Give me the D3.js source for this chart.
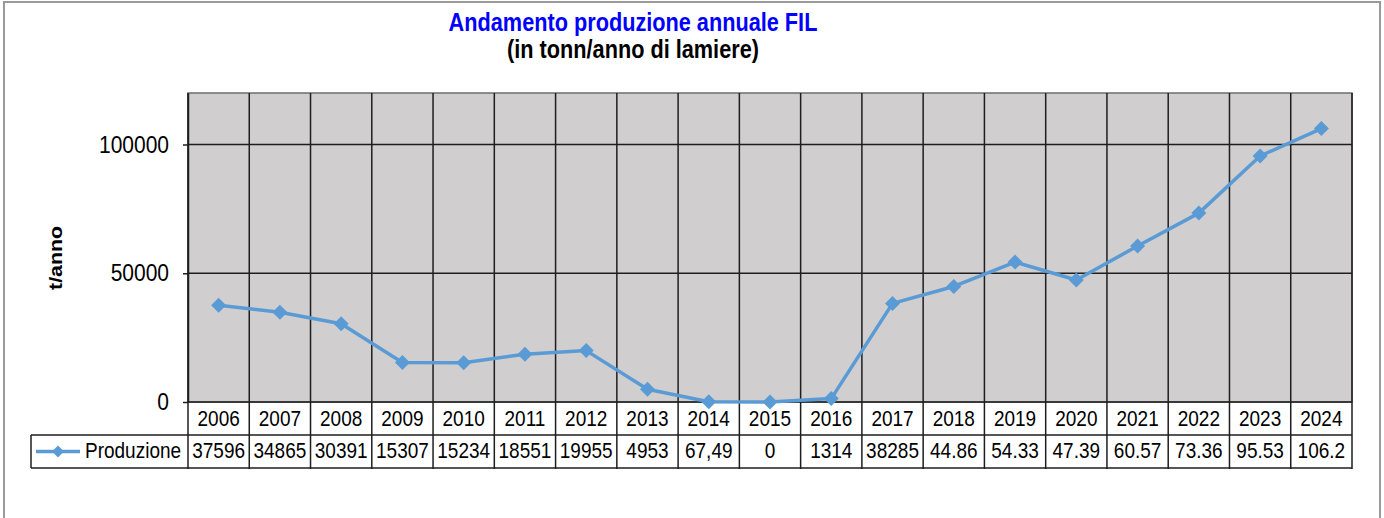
<!DOCTYPE html>
<html>
<head>
<meta charset="utf-8">
<script src="https://cdn.jsdelivr.net/npm/d3@7"></script>
<style>
  body { margin: 0; background: #fff; }
  text { font-family: "Liberation Sans", Arial, sans-serif; fill: #000; }
</style>
</head>
<body>
<div id="chart"></div>
<script>
// data
var years = ['2006', '2007', '2008', '2009', '2010', '2011', '2012', '2013', '2014', '2015',
             '2016', '2017', '2018', '2019', '2020', '2021', '2022', '2023', '2024'];
var values = [37596, 34865, 30391, 15307, 15234, 18551, 19955, 4953, 67.49, 0,
              1314, 38285, 44860, 54330, 47390, 60570, 73360, 95530, 106200];
var tableLabels = ['37596', '34865', '30391', '15307', '15234', '18551', '19955', '4953', '67,49', '0',
                   '1314', '38285', '44.86', '54.33', '47.39', '60.57', '73.36', '95.53', '106.2'];
var yTicks = [0, 50000, 100000];
var seriesName = 'Produzione';

var W = 1384, H = 518;
var plot = {left: 188, right: 1352, top: 93, bottom: 402};
var rowH = 33;
var legendLeft = 31;
var sy = 1.15; // text in the picture is a little stretched vertically
var lineColor = '#5b9bd5';

var svg = d3.select('#chart').append('svg')
    .attr('width', W)
    .attr('height', H);

// outer frame
svg.append('rect')
    .attr('x', 4).attr('y', 2)
    .attr('width', 1376).attr('height', H + 10)
    .attr('fill', '#fff')
    .attr('stroke', '#9a9a9a')
    .attr('stroke-width', 2);

var x = d3.scaleBand().domain(years).range([plot.left, plot.right]).padding(0);
var y = d3.scaleLinear().domain([0, 120000]).range([plot.bottom, plot.top]);

function txt(px, py, s, size, opts) {
  opts = opts || {};
  return svg.append('text')
      .attr('transform', 'translate(' + px + ',' + py + ')' + (opts.rotate ? ' rotate(' + opts.rotate + ')' : '') + ' scale(' + (opts.rotate ? sy + ',1' : '1,' + sy) + ')')
      .attr('text-anchor', opts.anchor || 'middle')
      .style('font-size', size + 'px')
      .style('font-weight', opts.bold ? 'bold' : 'normal')
      .style('fill', opts.color || '#000')
      .text(s);
}

// title
txt(633, 31, 'Andamento produzione annuale FIL', 21.7, {bold: true, color: '#0000ff'});
txt(633, 58, '(in tonn/anno di lamiere)', 21.7, {bold: true});

// plot background
svg.append('rect')
    .attr('x', plot.left).attr('y', plot.top)
    .attr('width', plot.right - plot.left).attr('height', plot.bottom - plot.top)
    .attr('fill', '#d0cecf')
    .attr('stroke', '#6e6e6e')
    .attr('stroke-width', 1.5);

// horizontal gridlines
svg.append('g')
    .selectAll('line')
    .data(yTicks.filter(function(d) { return d > 0; }))
    .enter().append('line')
    .attr('x1', plot.left).attr('x2', plot.right)
    .attr('y1', function(d) { return y(d); })
    .attr('y2', function(d) { return y(d); })
    .attr('stroke', '#1e1e1e')
    .attr('stroke-width', 1.5);

// vertical gridlines, carried down through the data table
var bounds = years.map(function(d) { return x(d); }).concat([plot.right]);
svg.append('g')
    .selectAll('line')
    .data(bounds)
    .enter().append('line')
    .attr('x1', function(d) { return d; })
    .attr('x2', function(d) { return d; })
    .attr('y1', plot.top)
    .attr('y2', plot.bottom + 2 * rowH + 1)
    .attr('stroke', '#1e1e1e')
    .attr('stroke-width', 1.5);

// y axis
var yAxis = svg.append('g')
    .attr('transform', 'translate(' + plot.left + ',0)')
    .call(d3.axisLeft(y).tickValues(yTicks).tickSize(5).tickSizeOuter(0).tickPadding(14).tickFormat(d3.format('d')));
yAxis.select('.domain').attr('stroke', '#1e1e1e').attr('stroke-width', 1.5);
yAxis.selectAll('.tick line').attr('stroke', '#1e1e1e').attr('stroke-width', 1.5);
yAxis.selectAll('.tick text')
    .attr('transform', 'scale(1,' + sy + ')')
    .style('font-family', '"Liberation Sans", Arial, sans-serif')
    .style('font-size', '21px')
    .attr('fill', '#000');

// y title
txt(62, 258, 't/anno', 18.5, {bold: true, rotate: -90});

// data table lines
var table = svg.append('g').attr('stroke', '#1e1e1e').attr('stroke-width', 1.5);
table.append('line')
    .attr('x1', plot.left).attr('x2', plot.right)
    .attr('y1', plot.bottom).attr('y2', plot.bottom);
table.append('line')
    .attr('x1', legendLeft).attr('x2', plot.right)
    .attr('y1', plot.bottom + rowH).attr('y2', plot.bottom + rowH);
table.append('line')
    .attr('x1', legendLeft).attr('x2', plot.right)
    .attr('y1', plot.bottom + 2 * rowH).attr('y2', plot.bottom + 2 * rowH);
table.append('line')
    .attr('x1', legendLeft).attr('x2', legendLeft)
    .attr('y1', plot.bottom + rowH).attr('y2', plot.bottom + 2 * rowH);

years.forEach(function(d, i) {
  var cx = x(d) + x.bandwidth() / 2;
  txt(cx, 426, d, 19);
  txt(cx, 458, tableLabels[i], 19);
});

// legend key
var legY = plot.bottom + rowH * 1.5;
svg.append('line')
    .attr('x1', 36).attr('x2', 80)
    .attr('y1', legY).attr('y2', legY)
    .attr('stroke', lineColor).attr('stroke-width', 3.5);
svg.append('path')
    .attr('d', 'M0,-6L6,0L0,6L-6,0Z')
    .attr('transform', 'translate(58,' + legY + ')')
    .attr('fill', lineColor);
txt(85, 458, seriesName, 19, {anchor: 'start'});

// series line
var line = d3.line()
    .x(function(d, i) { return x(years[i]) + x.bandwidth() / 2; })
    .y(function(d) { return y(d); });

svg.append('path')
    .datum(values)
    .attr('d', line)
    .attr('fill', 'none')
    .attr('stroke', lineColor)
    .attr('stroke-width', 3.5)
    .attr('stroke-linejoin', 'round');

svg.selectAll('.dot')
    .data(values)
    .enter().append('path')
    .attr('class', 'dot')
    .attr('d', 'M0,-7.5L7.5,0L0,7.5L-7.5,0Z')
    .attr('transform', function(d, i) {
      return 'translate(' + (x(years[i]) + x.bandwidth() / 2) + ',' + y(d) + ')';
    })
    .attr('fill', lineColor);
</script>
</body>
</html>
